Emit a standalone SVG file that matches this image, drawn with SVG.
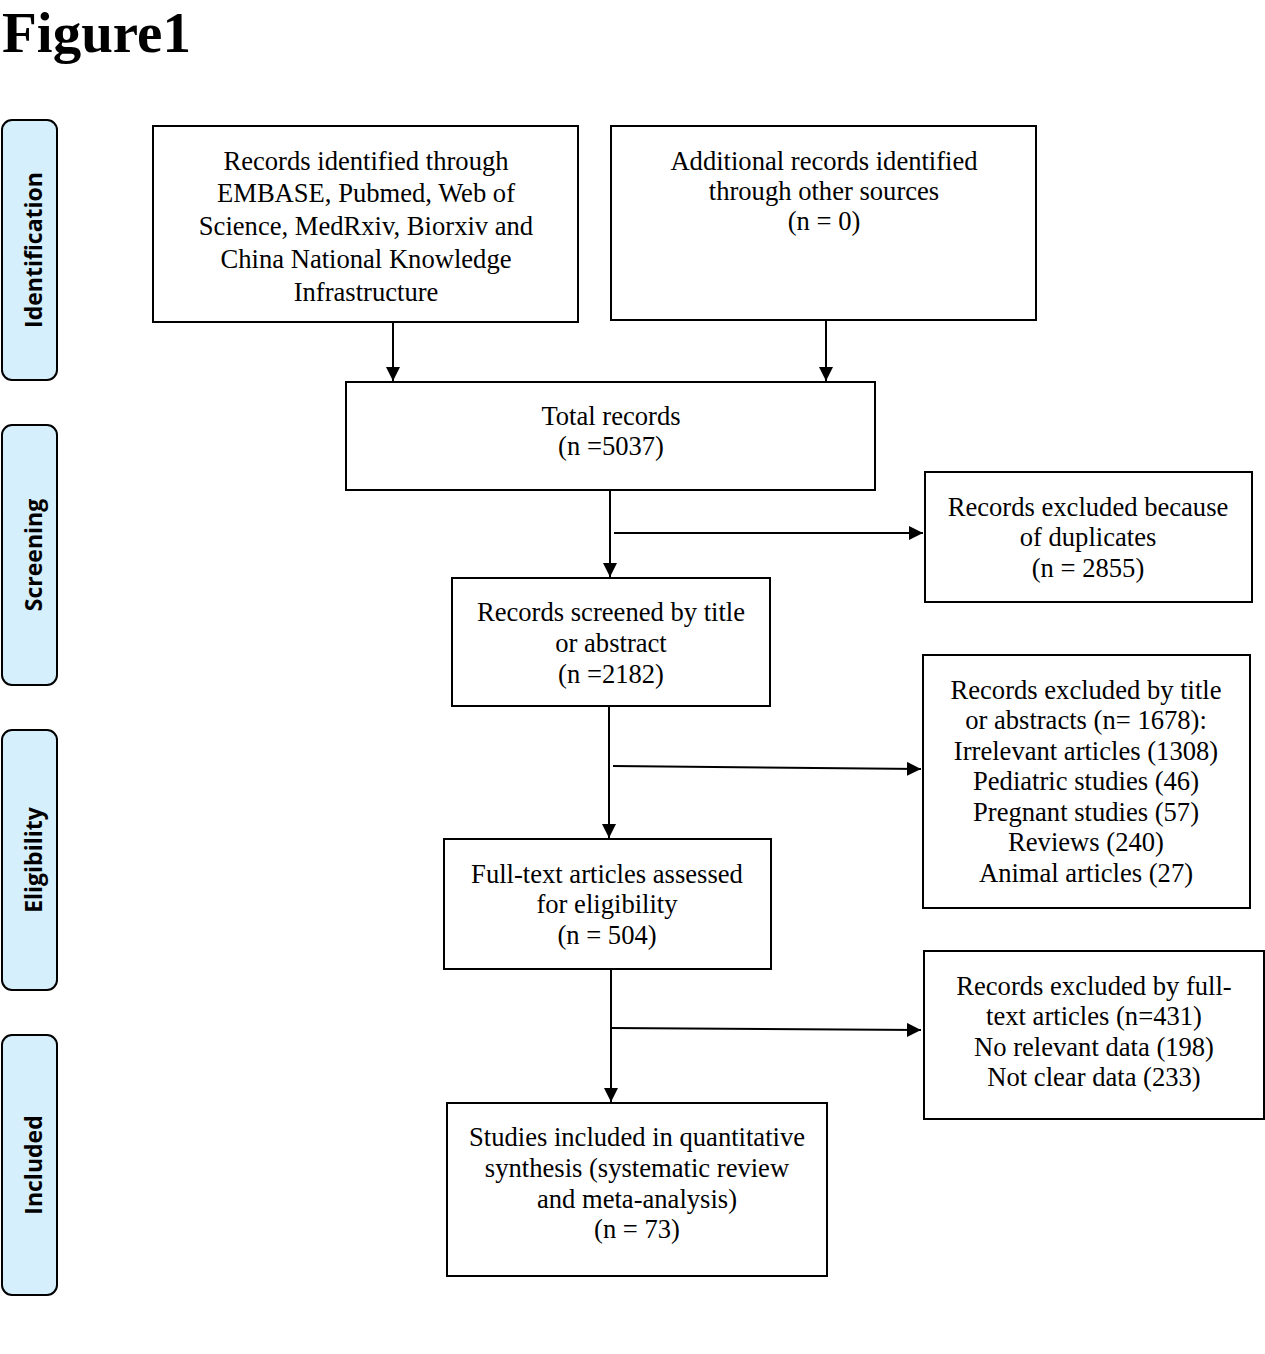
<svg xmlns="http://www.w3.org/2000/svg" width="1265" height="1354" viewBox="0 0 1265 1354">
<style>
.box{fill:#fff;stroke:#000;stroke-width:2}
.side{fill:#d5effc;stroke:#000;stroke-width:2}
.t{font-family:"Liberation Serif","Times New Roman",serif;font-size:26.6px;fill:#000;text-anchor:middle}
.s{font-family:"Open Sans","DejaVu Sans",sans-serif;font-weight:bold;font-size:23px;fill:#000;text-anchor:middle}
.c{fill:none;stroke:#000;stroke-width:2}
</style>
<defs>
<marker id="ah" viewBox="0 0 10 10" refX="10" refY="5" markerWidth="14" markerHeight="14" markerUnits="userSpaceOnUse" orient="auto">
<path d="M0,0 L10,5 L0,10 z" fill="#000"/>
</marker>
</defs>
<rect width="1265" height="1354" fill="#fff"/>
<text x="2" y="52" font-family="Liberation Serif,serif" font-weight="bold" font-size="57">Figure1</text>

<g id="side-identification"><rect class="side" x="2" y="120" width="55" height="260" rx="10"/><text class="s" transform="translate(42,250) rotate(-90)">Identification</text></g>
<g id="side-screening"><rect class="side" x="2" y="425" width="55" height="260" rx="10"/><text class="s" transform="translate(42,555) rotate(-90)">Screening</text></g>
<g id="side-eligibility"><rect class="side" x="2" y="730" width="55" height="260" rx="10"/><text class="s" transform="translate(42,860) rotate(-90)">Eligibility</text></g>
<g id="side-included"><rect class="side" x="2" y="1035" width="55" height="260" rx="10"/><text class="s" transform="translate(42,1165) rotate(-90)">Included</text></g>

<g id="n1"><rect class="box" x="153" y="126" width="425" height="196"/>
<text class="t" x="366" y="170">Records identified through</text>
<text class="t" x="366" y="202">EMBASE, Pubmed, Web of</text>
<text class="t" x="366" y="235">Science, MedRxiv, Biorxiv and</text>
<text class="t" x="366" y="268">China National Knowledge</text>
<text class="t" x="366" y="301">Infrastructure</text></g>

<g id="n2"><rect class="box" x="611" y="126" width="425" height="194"/>
<text class="t" x="824" y="170">Additional records identified</text>
<text class="t" x="824" y="200">through other sources</text>
<text class="t" x="824" y="230">(n = 0)</text></g>

<g id="n3"><rect class="box" x="346" y="382" width="529" height="108"/>
<text class="t" x="611" y="425">Total records</text>
<text class="t" x="611" y="455">(n =5037)</text></g>

<g id="n4"><rect class="box" x="925" y="472" width="327" height="130"/>
<text class="t" x="1088" y="516">Records excluded because</text>
<text class="t" x="1088" y="546">of duplicates</text>
<text class="t" x="1088" y="577">(n = 2855)</text></g>

<g id="n5"><rect class="box" x="452" y="578" width="318" height="128"/>
<text class="t" x="611" y="621">Records screened by title</text>
<text class="t" x="611" y="652">or abstract</text>
<text class="t" x="611" y="683">(n =2182)</text></g>

<g id="n6"><rect class="box" x="923" y="655" width="327" height="253"/>
<text class="t" x="1086" y="699">Records excluded by title</text>
<text class="t" x="1086" y="729">or abstracts (n= 1678):</text>
<text class="t" x="1086" y="760">Irrelevant articles (1308)</text>
<text class="t" x="1086" y="790">Pediatric studies (46)</text>
<text class="t" x="1086" y="821">Pregnant studies (57)</text>
<text class="t" x="1086" y="851">Reviews (240)</text>
<text class="t" x="1086" y="882">Animal articles (27)</text></g>

<g id="n7"><rect class="box" x="444" y="839" width="327" height="130"/>
<text class="t" x="607" y="883">Full-text articles assessed</text>
<text class="t" x="607" y="913">for eligibility</text>
<text class="t" x="607" y="944">(n = 504)</text></g>

<g id="n8"><rect class="box" x="924" y="951" width="340" height="168"/>
<text class="t" x="1094" y="995">Records excluded by full-</text>
<text class="t" x="1094" y="1025">text articles (n=431)</text>
<text class="t" x="1094" y="1056">No relevant data (198)</text>
<text class="t" x="1094" y="1086">Not clear data (233)</text></g>

<g id="n9"><rect class="box" x="447" y="1103" width="380" height="173"/>
<text class="t" x="637" y="1146">Studies included in quantitative</text>
<text class="t" x="637" y="1177">synthesis (systematic review</text>
<text class="t" x="637" y="1208">and meta-analysis)</text>
<text class="t" x="637" y="1238">(n = 73)</text></g>

<g id="connectors">
<line class="c" x1="393" y1="322" x2="393" y2="381" marker-end="url(#ah)"/>
<line class="c" x1="826" y1="320" x2="826" y2="381" marker-end="url(#ah)"/>
<line class="c" x1="610" y1="490" x2="610" y2="577" marker-end="url(#ah)"/>
<line class="c" x1="614" y1="533" x2="923" y2="533" marker-end="url(#ah)"/>
<line class="c" x1="609" y1="706" x2="609" y2="838" marker-end="url(#ah)"/>
<line class="c" x1="613" y1="766" x2="921" y2="769" marker-end="url(#ah)"/>
<line class="c" x1="611" y1="970" x2="611" y2="1102" marker-end="url(#ah)"/>
<line class="c" x1="611" y1="1028" x2="921" y2="1030" marker-end="url(#ah)"/>
</g>
</svg>
